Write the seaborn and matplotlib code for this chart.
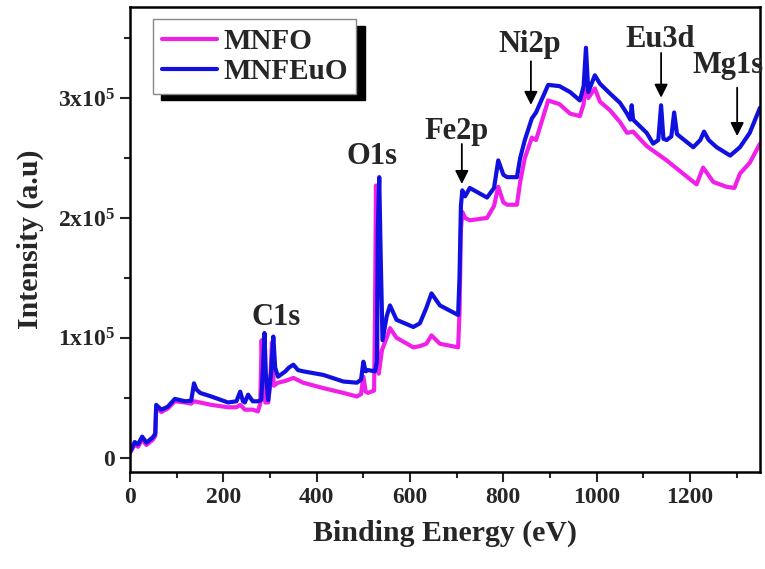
import matplotlib
matplotlib.use("Agg")
import matplotlib.pyplot as plt
from matplotlib.ticker import MultipleLocator, FuncFormatter
import seaborn as sns
import pandas as pd

# ---- data ----
energy_mnfeuo = [0, 3, 10, 17, 26, 35, 49, 54, 56, 67, 81, 96, 118, 131, 137, 142, 150, 174,
                 210, 228, 236, 242, 246, 253, 263, 274, 281, 285, 288, 291, 296, 302, 307, 311,
                 317, 333, 340, 350, 360, 371, 414, 457, 486, 495, 500, 505, 510, 525, 529, 531,
                 534, 537, 541, 550, 557, 571, 607, 621, 635, 646, 664, 703, 706, 709, 712, 718,
                 728, 765, 780, 789, 800, 808, 829, 836, 846, 861, 870, 896, 920, 943, 964, 972,
                 977, 982, 996, 1007, 1028, 1050, 1065, 1072, 1075, 1078, 1107, 1121, 1132, 1138,
                 1143, 1150, 1160, 1166, 1172, 1178, 1207, 1222, 1230, 1240, 1257, 1286, 1307,
                 1328, 1350]
intensity_mnfeuo = [5, 7, 13, 11, 17.5, 12.5, 17, 20, 44, 40, 42.5, 49, 47, 47.5, 62, 57, 54, 51,
                    46, 47, 55, 47, 46, 52.5, 47, 47, 48, 75, 104, 70, 48, 70, 101, 75,
                    67.5, 72, 75, 77.5, 73, 72, 69, 63.5, 62.5, 65, 80, 72, 73, 72, 80, 190,
                    234, 170, 98, 118, 127, 115, 109, 112, 125, 137, 127, 119, 150, 210, 223, 218,
                    225, 217, 225, 248, 236, 234, 234, 250, 265, 283, 288, 311, 310, 305, 298, 310,
                    342, 305, 319, 312, 304, 296, 287, 282, 294, 282, 271, 262, 265, 294,
                    266, 265, 268, 288, 270, 268, 259, 265, 272, 265, 259, 252, 259,
                    271, 292]

energy_mnfo = [0, 3, 10, 17, 26, 35, 49, 54, 56, 67, 81, 96, 118, 131, 137, 150, 174,
               210, 228, 236, 246, 263, 274, 279, 282, 285, 290, 296, 300, 304, 308,
               317, 333, 350, 371, 414, 457, 486, 495, 500, 505, 510, 523, 525, 527, 530,
               533, 540, 550, 557, 571, 607, 621, 635, 646, 664, 703, 706, 709, 712, 718,
               728, 765, 780, 789, 800, 808, 829, 836, 846, 861, 870, 896, 920, 943, 964, 972,
               977, 982, 996, 1007, 1028, 1050, 1065, 1078, 1107, 1114, 1150, 1185, 1214,
               1228, 1250, 1278, 1295, 1307, 1328, 1350]
intensity_mnfo = [4, 6, 11, 9, 15, 10.5, 15, 18, 42, 38, 41, 47, 46, 45, 47, 46, 44,
                  42, 42, 44, 40, 40, 38.5, 45, 98, 60, 46, 46, 60, 96, 60,
                  62.5, 64, 66.5, 62.5, 58, 54, 51, 53, 67.5, 55, 54, 56, 120, 227, 90,
                  70, 90, 100, 108, 100, 92, 93, 95, 102, 95, 92, 120, 190, 205, 200,
                  198, 200, 210, 226, 213, 211, 211, 230, 250, 267, 265, 298, 295, 287, 285, 295,
                  323, 300, 308, 297, 290, 280, 271, 272, 260, 258, 248, 237, 228,
                  242, 230, 226, 225, 237, 246, 262]

series_names = ["MNFO", "MNFEuO"]
series_colors = ["#F020E8", "#1010E0"]

peak_labels = ["C1s", "O1s", "Fe2p", "Ni2p", "Eu3d", "Mg1s"]
label_x = [314, 519, 699, 857, 1136, 1281]
label_y = [117000, 251000, 272000, 345000, 349000, 327000]
arrow_x = [None, None, 711, 859, 1138, 1301]
arrow_from = [None, None, 264000, 333000, 340000, 311000]
arrow_to = [None, None, 226000, 292000, 298000, 266000]

# ---- build table ----
df = pd.concat([
    pd.DataFrame({"energy": energy_mnfo, "intensity": [v * 1000 for v in intensity_mnfo],
                  "sample": "MNFO"}),
    pd.DataFrame({"energy": energy_mnfeuo, "intensity": [v * 1000 for v in intensity_mnfeuo],
                  "sample": "MNFEuO"}),
], ignore_index=True)

sns.set_style("ticks")
plt.rcParams["font.family"] = ["Liberation Serif", "DejaVu Serif"]
plt.rcParams["font.weight"] = "bold"
plt.rcParams["mathtext.fontset"] = "custom"
plt.rcParams["mathtext.rm"] = "Liberation Serif:bold"
plt.rcParams["mathtext.it"] = "Liberation Serif:bold"
plt.rcParams["mathtext.bf"] = "Liberation Serif:bold"

fig = plt.figure(figsize=(7.65, 5.69), dpi=100)
ax = fig.add_axes([0.170, 0.1705, 0.8235, 0.8172])

sns.lineplot(data=df, x="energy", y="intensity", hue="sample", hue_order=series_names,
             palette=dict(zip(series_names, series_colors)), estimator=None,
             linewidth=3.0, ax=ax)

ax.set_xlim(0, 1350)
ax.set_ylim(-12000, 376000)
ax.xaxis.set_major_locator(MultipleLocator(200))
ax.xaxis.set_minor_locator(MultipleLocator(100))
ax.yaxis.set_major_locator(MultipleLocator(100000))
ax.yaxis.set_minor_locator(MultipleLocator(50000))


def yfmt(v, pos):
    n = int(round(v / 100000))
    if n == 0:
        return "0"
    return r"%dx10$^{5}$" % n


ax.yaxis.set_major_formatter(FuncFormatter(yfmt))
ax.tick_params(axis="both", which="major", direction="out", length=7, width=1.5,
               labelsize=17, pad=4)
ax.tick_params(axis="both", which="minor", direction="out", length=4, width=1.5)
for s in ax.spines.values():
    s.set_linewidth(1.8)
    s.set_color("black")
for lab in ax.get_xticklabels() + ax.get_yticklabels():
    lab.set_fontweight("bold")

ax.set_xlabel("Binding Energy (eV)", fontsize=21.5, fontweight="bold", labelpad=8)
ax.set_ylabel("Intensity (a.u)", fontsize=21.5, fontweight="bold", labelpad=10)

for lab, lx, ly, axx, af, at in zip(peak_labels, label_x, label_y, arrow_x, arrow_from, arrow_to):
    ax.text(lx, ly, lab, fontsize=22, fontweight="bold", ha="center", va="center")
    if axx is not None:
        ax.annotate("", xy=(axx, at), xytext=(axx, af),
                    arrowprops=dict(arrowstyle="-|>", color="black", lw=1.3,
                                    mutation_scale=20))

leg = ax.legend(loc="upper left", bbox_to_anchor=(0.0365, 0.974), borderaxespad=0,
                fontsize=21, frameon=True, fancybox=False,
                shadow={"color": "black", "alpha": 1, "ox": 6, "oy": -5},
                handlelength=1.9, handletextpad=0.2, labelspacing=0.1, borderpad=0.3)
leg.get_frame().set_edgecolor("#888888")
leg.get_frame().set_linewidth(1.0)
for line in leg.get_lines():
    line.set_linewidth(3)
for t in leg.get_texts():
    t.set_fontweight("bold")

fig.savefig("out.png", dpi=100)
